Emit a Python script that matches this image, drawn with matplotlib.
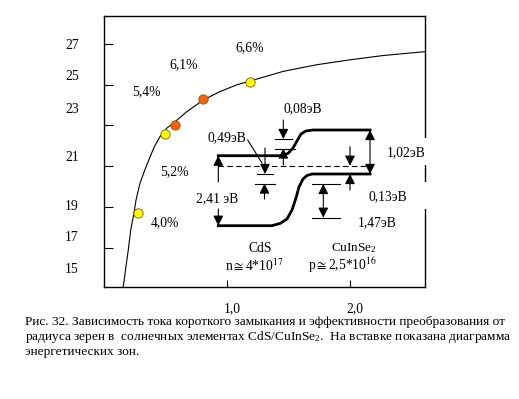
import matplotlib
matplotlib.use("Agg")
import matplotlib.pyplot as plt
from matplotlib.patches import Rectangle

plt.rcParams['font.family'] = ['Liberation Serif', 'DejaVu Serif']
plt.rcParams['mathtext.fontset'] = 'custom'
plt.rcParams['mathtext.rm'] = 'Liberation Serif'
plt.rcParams['mathtext.it'] = 'Liberation Serif:italic'
plt.rcParams['font.size'] = 9.8

# кривая тока короткого замыкания (мА/см2) от радиуса зерна (мкм)
radius = [0.154, 0.176, 0.195, 0.215, 0.241, 0.258, 0.290, 0.339, 0.407, 0.453, 0.507,
          0.575, 0.670, 0.805, 0.941, 1.076, 1.185, 1.453, 1.729, 1.997, 2.266, 2.607]
current = [15.08, 16.07, 16.89, 17.87, 18.69, 19.34, 20.16, 20.97, 21.96, 22.45, 22.86,
           23.18, 23.67, 24.25, 24.66, 24.99, 25.18, 25.65, 25.98, 26.22, 26.43, 26.62]

# экспериментальные точки
pt_r = [0.276, 0.493, 0.572, 0.80, 1.185]
pt_j = [18.69, 22.58, 23.01, 24.30, 25.13]
pt_col = ['#ffff00', '#ffff00', '#ff6010', '#ff6010', '#ffff00']

# подписи эффективности
eff_labels = ['4,0%', '5,2%', '5,4%', '6,1%', '6,6%']
eff_r = [0.493, 0.567, 0.339, 0.648, 1.185]
eff_j = [18.21, 20.73, 24.66, 26.00, 26.82]

ytick_vals = [17, 19, 21, 23, 25, 27]
ylab_text = ['27', '25', '23', '21', '19', '17', '15']
ylab_pos = [26.91, 25.38, 23.76, 21.45, 19.01, 17.52, 15.95]
xtick_vals = [1.0, 2.0]
xtick_text = ['1,0', '2,0']

# зонная диаграмма (пиксели вставки)
cb_x = [218.3, 280, 288, 293, 297, 301, 306, 313, 370]
cb_y = [155.7, 155.7, 153.5, 148, 141, 134, 131, 130, 130]
vb_x = [218.3, 271.7, 280, 287, 292, 296, 299, 303, 307, 312, 370]
vb_y = [225.7, 225.7, 223.5, 219, 210, 198, 187, 179, 175.5, 174, 174]
ef_x = [218.3, 370]
ef_y = [165.7, 165.7]

fig = plt.figure(figsize=(5.19, 3.99), dpi=100)
W, H = 519, 399
ax = fig.add_axes([104.3 / W, 1 - 287 / H, (425 - 104.3) / W, (287 - 16) / H])
ax.plot(radius, current, color='black', lw=0.8)
for r, j, c in zip(pt_r, pt_j, pt_col):
    ax.plot(r, j, 'o', ms=6.7, mfc=c, mec='#7a5a00', mew=0.6, zorder=5)
for t, r, j in zip(eff_labels, eff_r, eff_j):
    ax.text(r, j, t, ha='center', va='center')

ax.set_xlim(0, 2.607)
ax.set_ylim(15.07, 28.37)
ax.set_yticks(ytick_vals)
ax.set_yticklabels([])
ax.set_xticks(xtick_vals)
ax.set_xticklabels([])
ax.tick_params(direction='in', length=6.5, width=0.8, top=False, right=False)
ax.tick_params(axis='x', length=5)
for s in ax.spines.values():
    s.set_linewidth(1.0)
for t, y in zip(ylab_text, ylab_pos):
    ax.text(-0.263, y, t, ha='center', va='center', clip_on=False)
for x, t in zip(xtick_vals, xtick_text):
    ax.text(x + 0.04, 14.0, t, ha='center', va='center', clip_on=False)

# накладка для вставки и подписи
ov = fig.add_axes([0, 0, 1, 1])
ov.set_xlim(0, W)
ov.set_ylim(H, 0)
ov.axis('off')
ov.patch.set_alpha(0)

ov.plot(cb_x, cb_y, color='black', lw=2)
ov.plot(vb_x, vb_y, color='black', lw=2)
ov.plot(ef_x, ef_y, color='black', lw=0.8, ls=(0, (5, 3)))

def arr(x, y0, y1, style='-|>'):
    ov.annotate('', xy=(x, y1), xytext=(x, y0),
                arrowprops=dict(arrowstyle=style + ',head_length=0.6,head_width=0.3',
                                color='black', lw=0.8, shrinkA=0, shrinkB=0,
                                mutation_scale=10))

def hline(y, x0, x1):
    ov.plot([x0, x1], [y, y], color='black', lw=0.8)

arr(218.3, 182, 155.7)
arr(218.3, 209, 225.7)
arr(370, 130, 174, '<|-|>')
arr(283.3, 120, 139)
hline(139, 275, 291.7)
hline(148.5, 275, 295)
arr(283.3, 165, 148.5)
arr(265, 148, 174)
hline(174, 256.7, 273.3)
hline(183.5, 255, 275)
arr(264.5, 199, 183.5)
ov.plot([247.7, 262], [140, 163], color='black', lw=0.8)
arr(350, 146.7, 165.7)
arr(350, 190, 174)
hline(184, 311.7, 340)
hline(217.7, 311.7, 340)
arr(323.3, 184, 217.7, '<|-|>')

# разрывы правой рамки под подписями
ov.add_patch(Rectangle((419, 138), 12, 27, fc='white', ec='none', zorder=4))
ov.add_patch(Rectangle((419, 182), 12, 27, fc='white', ec='none', zorder=4))

ov.text(302.5, 108.5, '0,08эВ', ha='center', va='center')
ov.text(226.7, 137.7, '0,49эВ', ha='center', va='center')
ov.text(217.5, 199, '2,41 эВ', ha='center', va='center',
        bbox=dict(fc='white', ec='none', pad=0.5))
ov.text(406.7, 152.7, '1,02эВ', ha='center', va='center', zorder=5)
ov.text(387.5, 197, '0,13эВ', ha='center', va='center', zorder=5)
ov.text(377, 222.5, '1,47эВ', ha='center', va='center')
ov.text(260, 248.5, 'CdS', ha='center', va='center')
ov.text(254, 265.5, r'n$\cong$4*10$^{17}$', ha='center', va='center', math_fontfamily='stix')
ov.text(354, 248, 'CuInSe$_2$', ha='center', va='center', fontsize=9.5)
ov.text(343, 265.5, r'p$\cong$2,5*10$^{16}$', ha='center', va='center', math_fontfamily='stix')

caption = ['Рис. 32. Зависимость тока короткого замыкания и эффективности преобразования от',
           'радиуса зерен в  солнечных элементах CdS/CuInSe$_2$.  На вставке показана диаграмма',
           'энергетических зон.']
cap_y = [322.3, 336.7, 351.7]
for t, y in zip(caption, cap_y):
    ov.text(25, y, t, ha='left', va='center', fontsize=9.6)

fig.savefig('out.png', dpi=100)
